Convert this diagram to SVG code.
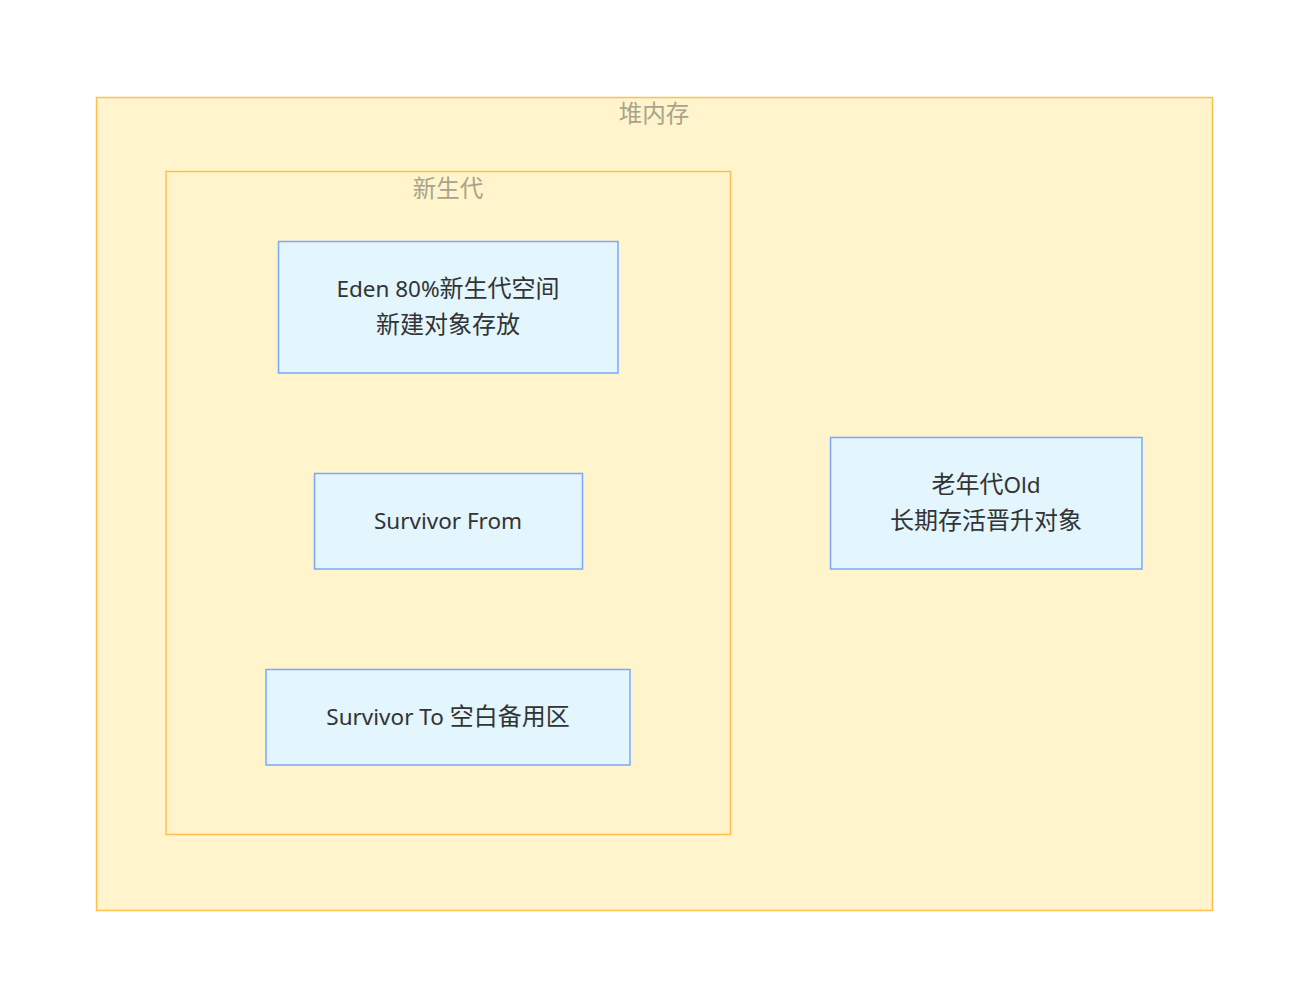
<svg xmlns="http://www.w3.org/2000/svg" width="1308" height="1006" viewBox="0 0 1308 1006">
<style>
.cl{fill:#fff4cb;stroke:#ffbf50;stroke-width:1.5}
.ct{font-family:"Noto Sans CJK SC",sans-serif;font-size:23.5px;fill:#a9a38a;text-anchor:middle}
.nd{fill:#e3f5fd;stroke:#7aa8ff;stroke-width:1.5}
.nt{font-family:"Noto Sans","Noto Sans CJK SC",sans-serif;font-size:22.5px;fill:#333;text-anchor:middle}
.cj{font-family:"Noto Sans CJK SC",sans-serif;font-size:24px}
</style>
<rect width="1308" height="1006" fill="#fff"/>
<g id="heap">
<rect class="cl" x="96.5" y="97.5" width="1116" height="813"/>
<text class="ct" x="654" y="122">堆内存</text>
</g>
<g id="young">
<rect class="cl" x="166" y="171.5" width="564.5" height="663"/>
<text class="ct" x="448" y="197">新生代</text>
</g>
<g id="connectors"></g>
<g id="eden">
<rect class="nd" x="278.5" y="241.5" width="339.5" height="131.5"/>
<text class="nt" x="448" y="297">Eden 80%<tspan class="cj">新生代空间</tspan></text>
<text class="nt" x="448" y="333"><tspan class="cj">新建对象存放</tspan></text>
</g>
<g id="from">
<rect class="nd" x="314.5" y="473.5" width="268" height="95.5"/>
<text class="nt" x="448" y="529">Survivor From</text>
</g>
<g id="to">
<rect class="nd" x="266" y="669.5" width="364" height="95.5"/>
<text class="nt" x="448" y="725">Survivor To <tspan class="cj">空白备用区</tspan></text>
</g>
<g id="old">
<rect class="nd" x="830.5" y="437.5" width="311.5" height="131.5"/>
<text class="nt" x="986" y="493"><tspan class="cj">老年代</tspan>Old</text>
<text class="nt" x="986" y="529"><tspan class="cj">长期存活晋升对象</tspan></text>
</g>
</svg>
